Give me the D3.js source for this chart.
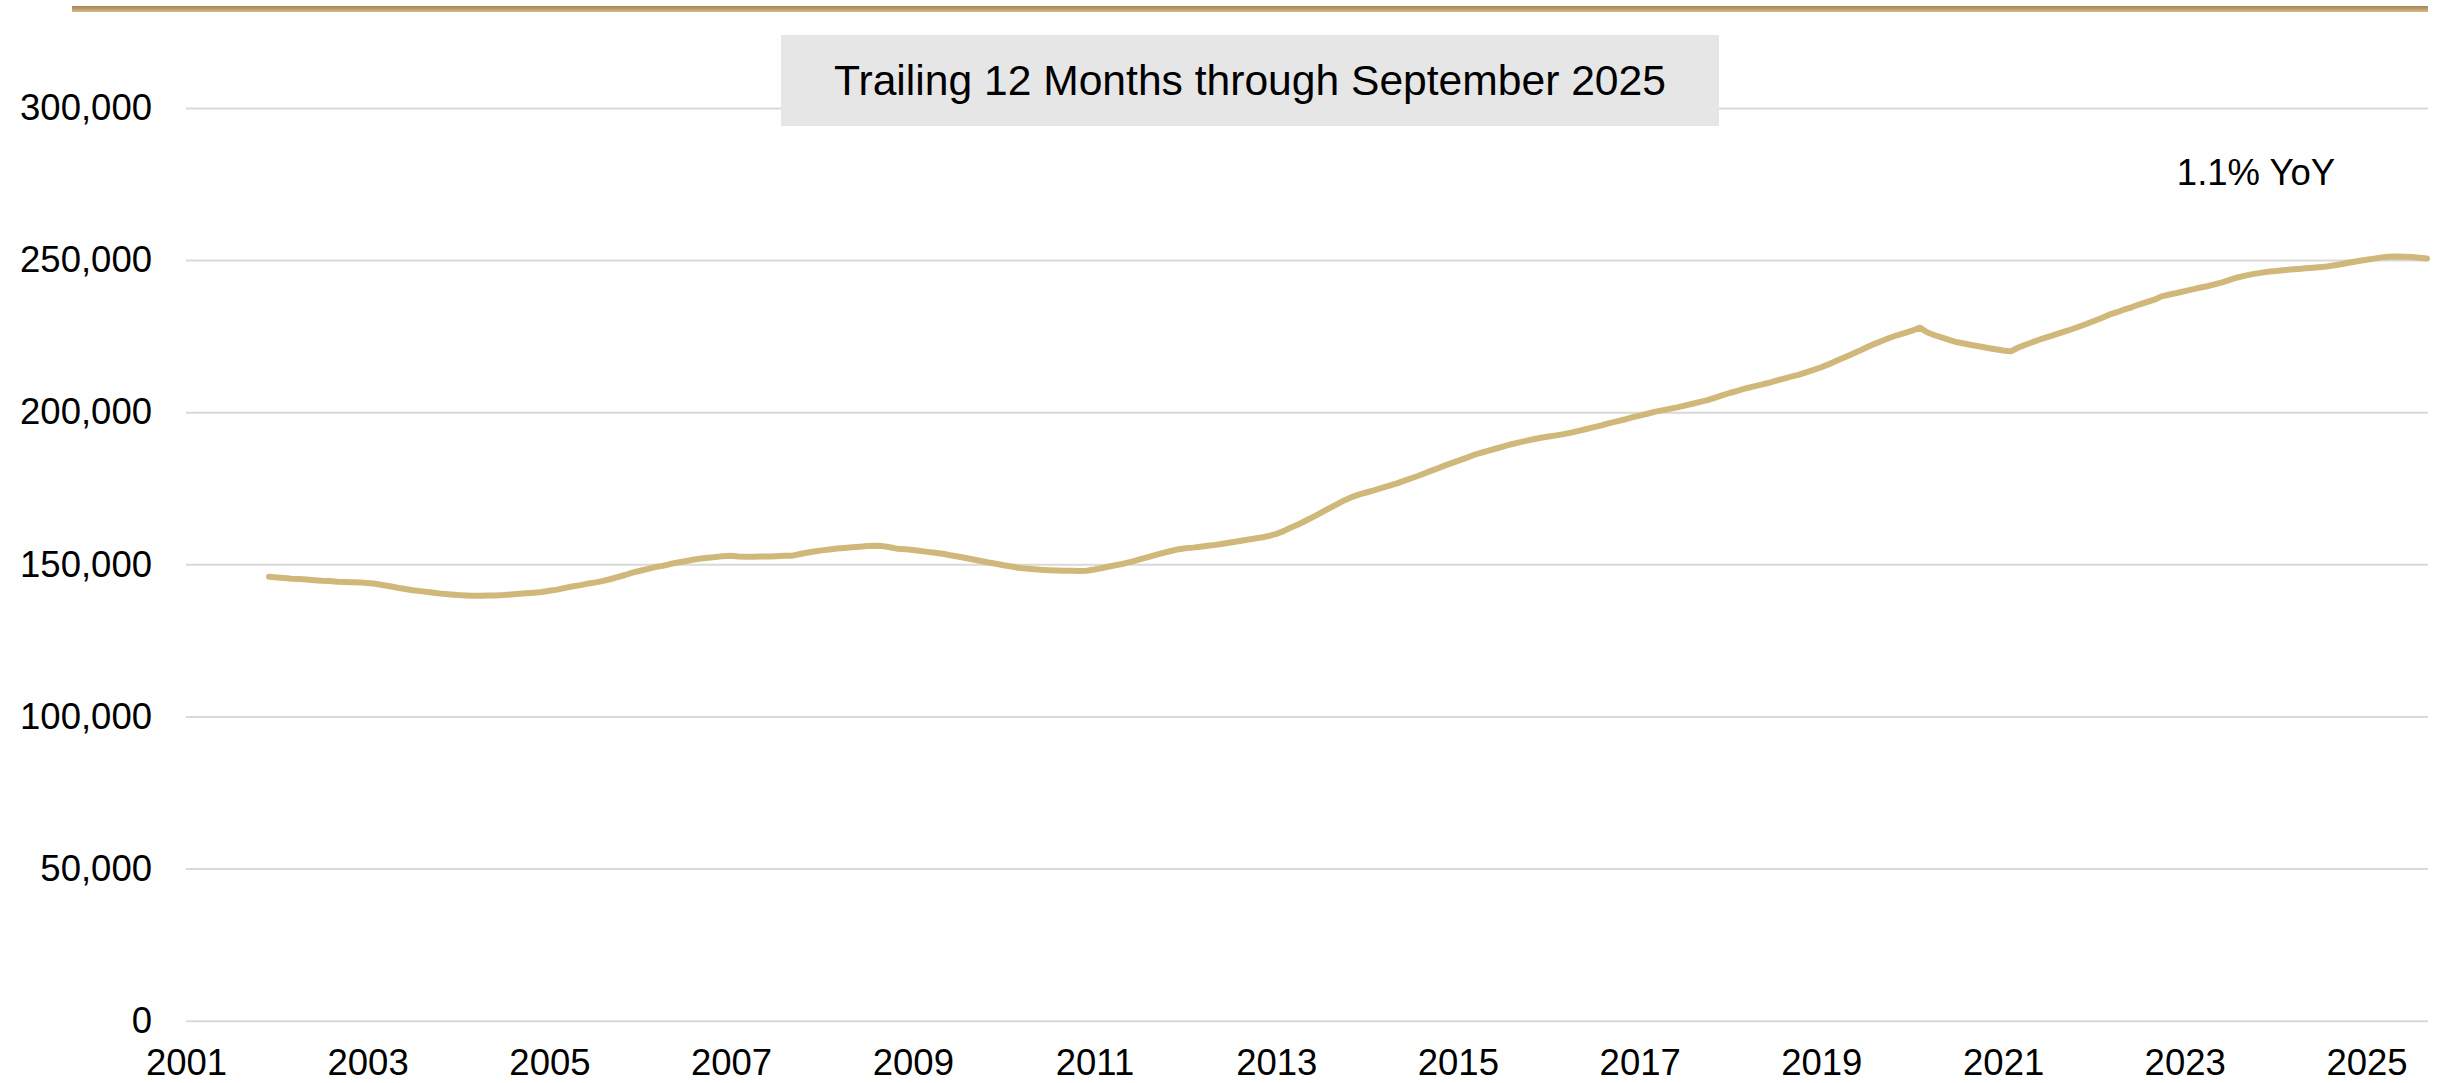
<!DOCTYPE html>
<html>
<head>
<meta charset="utf-8">
<script src="https://cdn.jsdelivr.net/npm/d3@7"></script>
<style>
  html, body { margin: 0; padding: 0; background: #ffffff; }
  svg { display: block; font-family: "Liberation Sans", Arial, sans-serif; }
</style>
</head>
<body>
<svg id="chart" width="2451" height="1083"></svg>
<script>
// Trailing 12-month totals, monthly, December 2001 through September 2025
const firstMonth = { year: 2001, month: 11 }; // month is 0-based (11 = December)
const values = [
  145900,                                                                                  // 2001 Dec
  145700, 145500, 145300, 145200, 145000, 144800, 144600, 144500, 144300, 144200, 144100, 144000, // 2002
  143900, 143600, 143200, 142800, 142300, 141900, 141500, 141200, 140900, 140600, 140300, 140100, // 2003
  139900, 139800, 139700, 139700, 139800, 139800, 139900, 140100, 140300, 140500, 140700, 140900, // 2004
  141300, 141700, 142200, 142700, 143100, 143600, 144000, 144500, 145100, 145800, 146500, 147300, // 2005
  147900, 148500, 149100, 149500, 150100, 150600, 151000, 151500, 151900, 152200, 152400, 152700, // 2006
  152800, 152600, 152500, 152500, 152600, 152600, 152700, 152800, 152800, 153300, 153800, 154200, // 2007
  154600, 154900, 155200, 155400, 155600, 155800, 156000, 156100, 156000, 155600, 155100, 155000, // 2008
  154700, 154400, 154100, 153800, 153500, 153000, 152600, 152100, 151600, 151100, 150600, 150200, // 2009
  149700, 149300, 148900, 148600, 148400, 148200, 148100, 148000, 147900, 147900, 147800, 147900, // 2010
  148300, 148800, 149300, 149800, 150300, 150900, 151600, 152300, 153000, 153700, 154300, 154900, // 2011
  155300, 155500, 155800, 156100, 156400, 156800, 157200, 157600, 158000, 158400, 158800, 159300, // 2012
  160000, 161000, 162100, 163200, 164400, 165700, 167000, 168400, 169700, 171000, 172100, 173000, // 2013
  173700, 174400, 175100, 175900, 176600, 177500, 178400, 179300, 180300, 181200, 182200, 183100, // 2014
  184000, 184900, 185800, 186600, 187300, 188000, 188700, 189400, 190000, 190600, 191100, 191600, // 2015
  192000, 192400, 192800, 193300, 193900, 194500, 195100, 195700, 196400, 197000, 197600, 198300, // 2016
  198900, 199500, 200100, 200600, 201100, 201600, 202200, 202800, 203400, 204000, 204800, 205600, // 2017
  206400, 207100, 207800, 208400, 209000, 209600, 210300, 211000, 211700, 212300, 213100, 213900, // 2018
  214800, 215800, 216800, 217900, 219000, 220100, 221300, 222400, 223400, 224400, 225300, 226000, // 2019
  226800, 227800, 226300, 225300, 224500, 223700, 223000, 222500, 222000, 221600, 221100, 220700, // 2020
  220300, 220000, 221200, 222200, 223100, 224000, 224800, 225600, 226400, 227200, 228100, 229000, // 2021
  230000, 231000, 232000, 232800, 233700, 234500, 235400, 236200, 237000, 238100, 238700, 239200, // 2022
  239800, 240400, 240900, 241400, 242000, 242700, 243500, 244300, 244900, 245400, 245800, 246200, // 2023
  246400, 246700, 246900, 247100, 247300, 247500, 247700, 248000, 248400, 248800, 249300, 249700, // 2024
  250100, 250500, 250900, 251100, 251200, 251100, 251000, 250800, 250500                          // 2025 Jan-Sep
];
const yTicks = [0, 50000, 100000, 150000, 200000, 250000, 300000];
const xTickYears = [2001, 2003, 2005, 2007, 2009, 2011, 2013, 2015, 2017, 2019, 2021, 2023, 2025];
const titleText = "Trailing 12 Months through September 2025";
const yoyText = "1.1% YoY";

const series = values.map((v, i) => ({
  date: new Date(firstMonth.year, firstMonth.month + i, 1),
  value: v
}));

const svg = d3.select("#chart");
const plot = { left: 186, right: 2428, top: 108, bottom: 1020.7 };

const x = d3.scaleTime()
  .domain([new Date(2001, 0, 1), series[series.length - 1].date])
  .range([plot.left, plot.right - 1]);
const y = d3.scaleLinear()
  .domain([0, 300000])
  .range([plot.bottom, plot.top]);

// Gold rule along the top
const defs = svg.append("defs");
const grad = defs.append("linearGradient")
  .attr("id", "ruleGrad").attr("x1", 0).attr("y1", 0).attr("x2", 0).attr("y2", 1);
grad.append("stop").attr("offset", "0%").attr("stop-color", "#a4825a");
grad.append("stop").attr("offset", "100%").attr("stop-color", "#d6bb84");
svg.append("rect")
  .attr("x", 72).attr("y", 6).attr("width", 2428 - 72).attr("height", 6)
  .attr("fill", "url(#ruleGrad)");

// Horizontal gridlines and value labels
const yAxis = d3.axisLeft(y)
  .tickValues(yTicks)
  .tickSize(-(plot.right - plot.left))
  .tickPadding(34)
  .tickFormat(d3.format(","));
const gy = svg.append("g")
  .attr("transform", `translate(${plot.left},0)`)
  .call(yAxis);
gy.select(".domain").remove();
gy.selectAll(".tick line").attr("stroke", "#d9d9d9").attr("stroke-width", 2);
gy.selectAll(".tick text")
  .attr("fill", "#000")
  .attr("font-size", 36.5)
  .attr("font-family", "'Liberation Sans', Arial, sans-serif");

// Year labels
const xAxis = d3.axisBottom(x)
  .tickValues(xTickYears.map(yr => new Date(yr, 0, 1)))
  .tickSize(0)
  .tickPadding(0)
  .tickFormat(d3.timeFormat("%Y"));
const gx = svg.append("g")
  .attr("transform", `translate(0,${plot.bottom})`)
  .call(xAxis);
gx.select(".domain").remove();
gx.selectAll(".tick text")
  .attr("fill", "#000")
  .attr("font-size", 36.5)
  .attr("font-family", "'Liberation Sans', Arial, sans-serif")
  .attr("dy", null)
  .attr("y", 54);

// The series line
const line = d3.line()
  .x(d => x(d.date))
  .y(d => y(d.value));
svg.append("path")
  .datum(series)
  .attr("fill", "none")
  .attr("stroke", "#d0b87a")
  .attr("stroke-width", 6)
  .attr("stroke-linejoin", "round")
  .attr("stroke-linecap", "round")
  .attr("d", line);

// Title box
svg.append("rect")
  .attr("x", 781).attr("y", 35).attr("width", 938).attr("height", 91)
  .attr("fill", "#e6e6e6");
svg.append("text")
  .attr("x", 1250).attr("y", 95)
  .attr("text-anchor", "middle")
  .attr("font-size", 42.6)
  .attr("fill", "#000")
  .text(titleText);

// Year-over-year annotation
svg.append("text")
  .attr("x", 2256).attr("y", 185)
  .attr("text-anchor", "middle")
  .attr("font-size", 36.5)
  .attr("fill", "#000")
  .text(yoyText);
</script>
</body>
</html>
